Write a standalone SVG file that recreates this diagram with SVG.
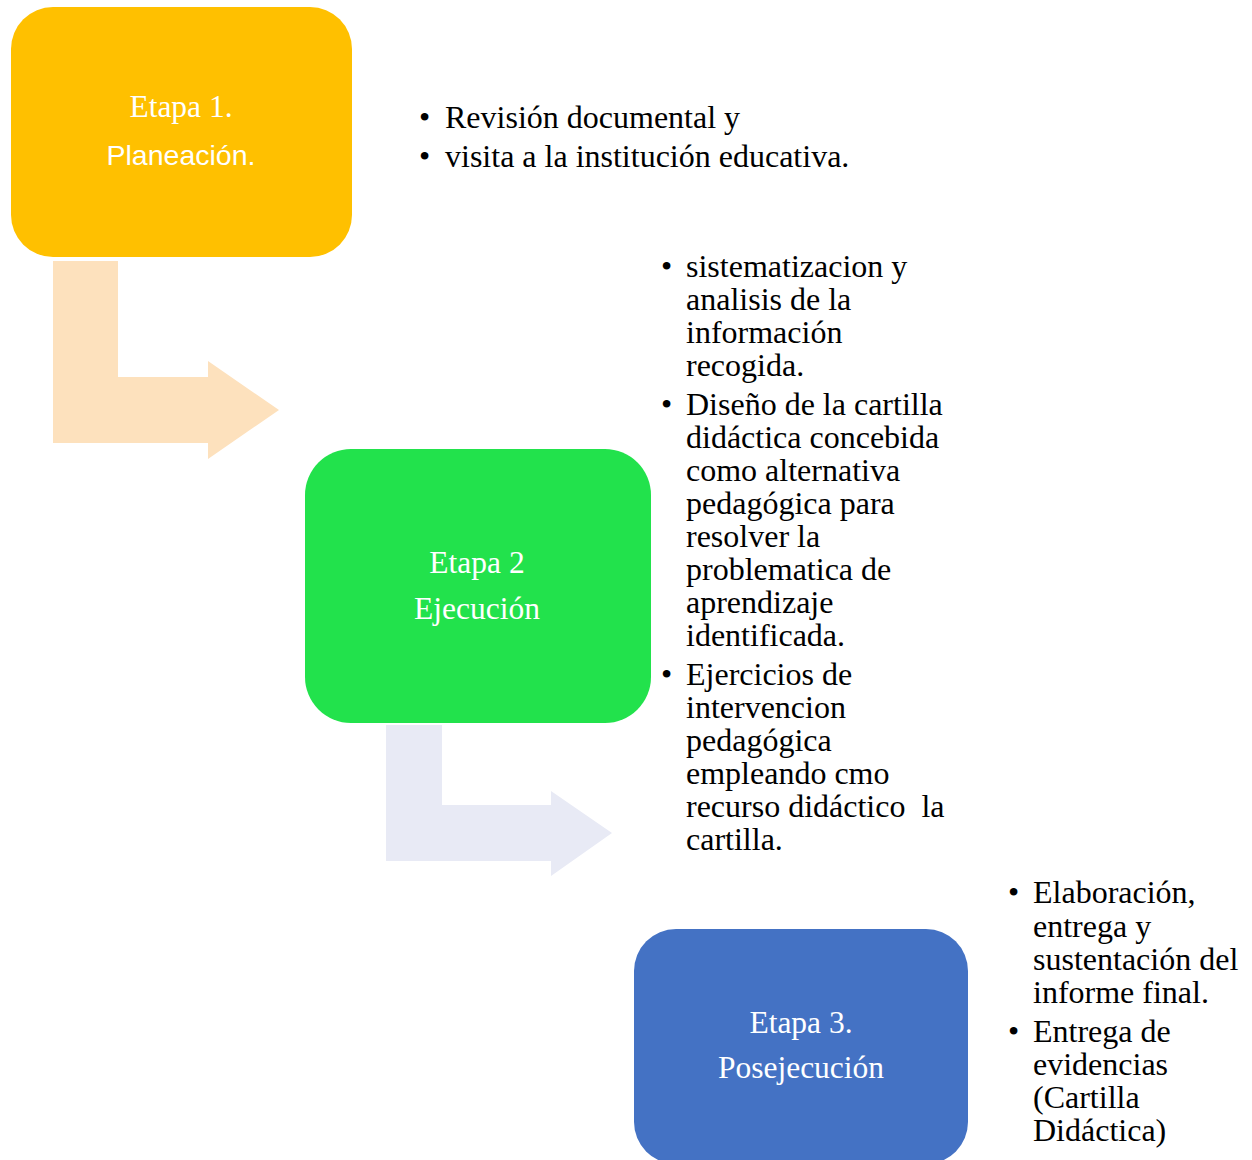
<svg xmlns="http://www.w3.org/2000/svg" width="1252" height="1160" viewBox="0 0 1252 1160">
<style>
.lbl{font-family:"Liberation Serif","Times New Roman",serif;font-size:31.5px;fill:#ffffff;text-anchor:middle}
.lbls{font-family:"Liberation Sans",Arial,sans-serif;font-size:28.5px;fill:#ffffff;text-anchor:middle}
.txt{font-family:"Liberation Serif","Times New Roman",serif;font-size:32px;fill:#000000}
</style>
<rect width="1252" height="1160" fill="#ffffff"/>
<g id="connectors">
<path d="M53,261 H118 V377 H208 V361 L279,410 L208,459 V443 H53 Z" fill="#FDE1BD"/>
<path d="M386,725 H442 V805 H551 V791 L612,833 L551,876 V861 H386 Z" fill="#E8EAF5"/>
</g>
<g id="etapa1">
<rect x="11" y="7" width="341" height="250" rx="42" fill="#FFC000"/>
<text class="lbl" x="181" y="117">Etapa 1.</text>
<text class="lbls" x="181" y="165">Planeación.</text>
</g>
<g id="etapa1-text">
<text class="txt" x="419" y="128">•</text>
<text class="txt" x="445" y="128">Revisión documental y</text>
<text class="txt" x="419" y="167">•</text>
<text class="txt" x="445" y="167">visita a la institución educativa.</text>
</g>
<g id="etapa2">
<rect x="305" y="449" width="346" height="274" rx="46" fill="#22E24C"/>
<text class="lbl" x="477" y="573">Etapa 2</text>
<text class="lbl" x="477" y="619">Ejecución</text>
</g>
<g id="etapa2-text">
<text class="txt" x="661" y="277">•</text>
<text class="txt" x="686" y="277">sistematizacion y</text>
<text class="txt" x="686" y="310">analisis de la</text>
<text class="txt" x="686" y="343">información</text>
<text class="txt" x="686" y="376">recogida.</text>
<text class="txt" x="661" y="415">•</text>
<text class="txt" x="686" y="415">Diseño de la cartilla</text>
<text class="txt" x="686" y="448">didáctica concebida</text>
<text class="txt" x="686" y="481">como alternativa</text>
<text class="txt" x="686" y="514">pedagógica para</text>
<text class="txt" x="686" y="547">resolver la</text>
<text class="txt" x="686" y="580">problematica de</text>
<text class="txt" x="686" y="613">aprendizaje</text>
<text class="txt" x="686" y="646">identificada.</text>
<text class="txt" x="661" y="685">•</text>
<text class="txt" x="686" y="685">Ejercicios de</text>
<text class="txt" x="686" y="718">intervencion</text>
<text class="txt" x="686" y="751">pedagógica</text>
<text class="txt" x="686" y="784">empleando cmo</text>
<text class="txt" x="686" y="817" xml:space="preserve">recurso didáctico  la</text>
<text class="txt" x="686" y="850">cartilla.</text>
</g>
<g id="etapa3">
<rect x="634" y="929" width="334" height="235" rx="42" fill="#4472C4"/>
<text class="lbl" x="801" y="1033">Etapa 3.</text>
<text class="lbl" x="801" y="1078">Posejecución</text>
</g>
<g id="etapa3-text">
<text class="txt" x="1008" y="903">•</text>
<text class="txt" x="1033" y="903">Elaboración,</text>
<text class="txt" x="1033" y="937">entrega y</text>
<text class="txt" x="1033" y="970">sustentación del</text>
<text class="txt" x="1033" y="1003">informe final.</text>
<text class="txt" x="1008" y="1042">•</text>
<text class="txt" x="1033" y="1042">Entrega de</text>
<text class="txt" x="1033" y="1075">evidencias</text>
<text class="txt" x="1033" y="1108">(Cartilla</text>
<text class="txt" x="1033" y="1141">Didáctica)</text>
</g>
</svg>
